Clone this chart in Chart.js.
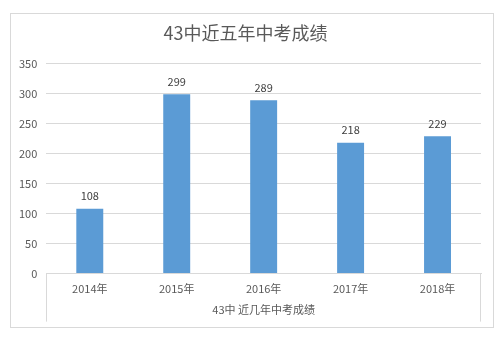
<!DOCTYPE html>
<html>
<head>
<meta charset="utf-8">
<script src="https://cdn.jsdelivr.net/npm/chart.js@4/dist/chart.umd.min.js"></script>
<style>
  html, body { margin: 0; padding: 0; background: #fff; }
  #wrap { width: 504px; height: 338px; position: relative; }
</style>
</head>
<body>
<div id="wrap"><canvas id="c" width="504" height="338"></canvas></div>
<script>
// 43中 近五年中考成绩
const years = ['2014年', '2015年', '2016年', '2017年', '2018年'];
const scores = [108, 299, 289, 218, 229];
const yTicks = [0, 50, 100, 150, 200, 250, 300, 350];

const FONT = "'Noto Sans CJK SC', 'Noto Sans', sans-serif";

// outer frame around the whole chart
const framePlugin = {
  id: 'frame',
  beforeDraw(chart) {
    const ctx = chart.ctx;
    ctx.save();
    ctx.fillStyle = '#ffffff';
    ctx.fillRect(0, 0, chart.width, chart.height);
    ctx.strokeStyle = '#d9d9d9';
    ctx.lineWidth = 1;
    ctx.strokeRect(10.5, 13.5, 483, 314);
    ctx.restore();
  },
  afterDraw(chart) {
    // end brackets of the category axis
    const { left, right, bottom } = chart.chartArea;
    const ctx = chart.ctx;
    ctx.save();
    ctx.strokeStyle = '#d9d9d9';
    ctx.lineWidth = 1;
    ctx.beginPath();
    ctx.moveTo(Math.round(left) + 0.5, bottom);
    ctx.lineTo(Math.round(left) + 0.5, bottom + 48);
    ctx.moveTo(Math.round(right) - 0.5, bottom);
    ctx.lineTo(Math.round(right) - 0.5, bottom + 48);
    ctx.stroke();
    ctx.restore();
  }
};

// value labels above each bar
const valueLabels = {
  id: 'valueLabels',
  afterDatasetsDraw(chart) {
    const ctx = chart.ctx;
    const meta = chart.getDatasetMeta(0);
    ctx.save();
    ctx.fillStyle = '#404040';
    ctx.font = '11px ' + FONT;
    ctx.textAlign = 'center';
    ctx.textBaseline = 'bottom';
    meta.data.forEach((bar, i) => {
      ctx.fillText(String(chart.data.datasets[0].data[i]), bar.x, bar.y - 7);
    });
    ctx.restore();
  }
};

new Chart(document.getElementById('c'), {
  type: 'bar',
  data: {
    labels: years,
    datasets: [{
      data: scores,
      backgroundColor: '#5b9bd5',
      borderWidth: 0,
      categoryPercentage: 1,
      barPercentage: 0.31
    }]
  },
  options: {
    responsive: false,
    animation: false,
    devicePixelRatio: 1,
    layout: { padding: { left: 10, right: 23, top: 22, bottom: 22 } },
    plugins: {
      legend: { display: false },
      tooltip: { enabled: false },
      title: {
        display: true,
        text: '43中近五年中考成绩',
        color: '#595959',
        font: { family: FONT, size: 18, weight: 'normal' },
        padding: { top: 0, bottom: 20 }
      }
    },
    scales: {
      y: {
        min: 0,
        max: 350,
        afterBuildTicks(scale) { scale.ticks = yTicks.map(v => ({ value: v })); },
        border: { display: false },
        grid: { color: '#d9d9d9', lineWidth: 1, drawTicks: false },
        ticks: {
          color: '#595959',
          font: { family: FONT, size: 11 },
          padding: 9
        }
      },
      x: {
        border: { display: true, color: '#d9d9d9' },
        grid: { display: false },
        ticks: {
          color: '#595959',
          font: { family: FONT, size: 11 },
          padding: 1
        },
        title: {
          display: true,
          text: '43中 近几年中考成绩',
          color: '#595959',
          font: { family: FONT, size: 11 },
          padding: { top: 6, bottom: 0 }
        }
      }
    }
  },
  plugins: [framePlugin, valueLabels]
});
</script>
</body>
</html>
